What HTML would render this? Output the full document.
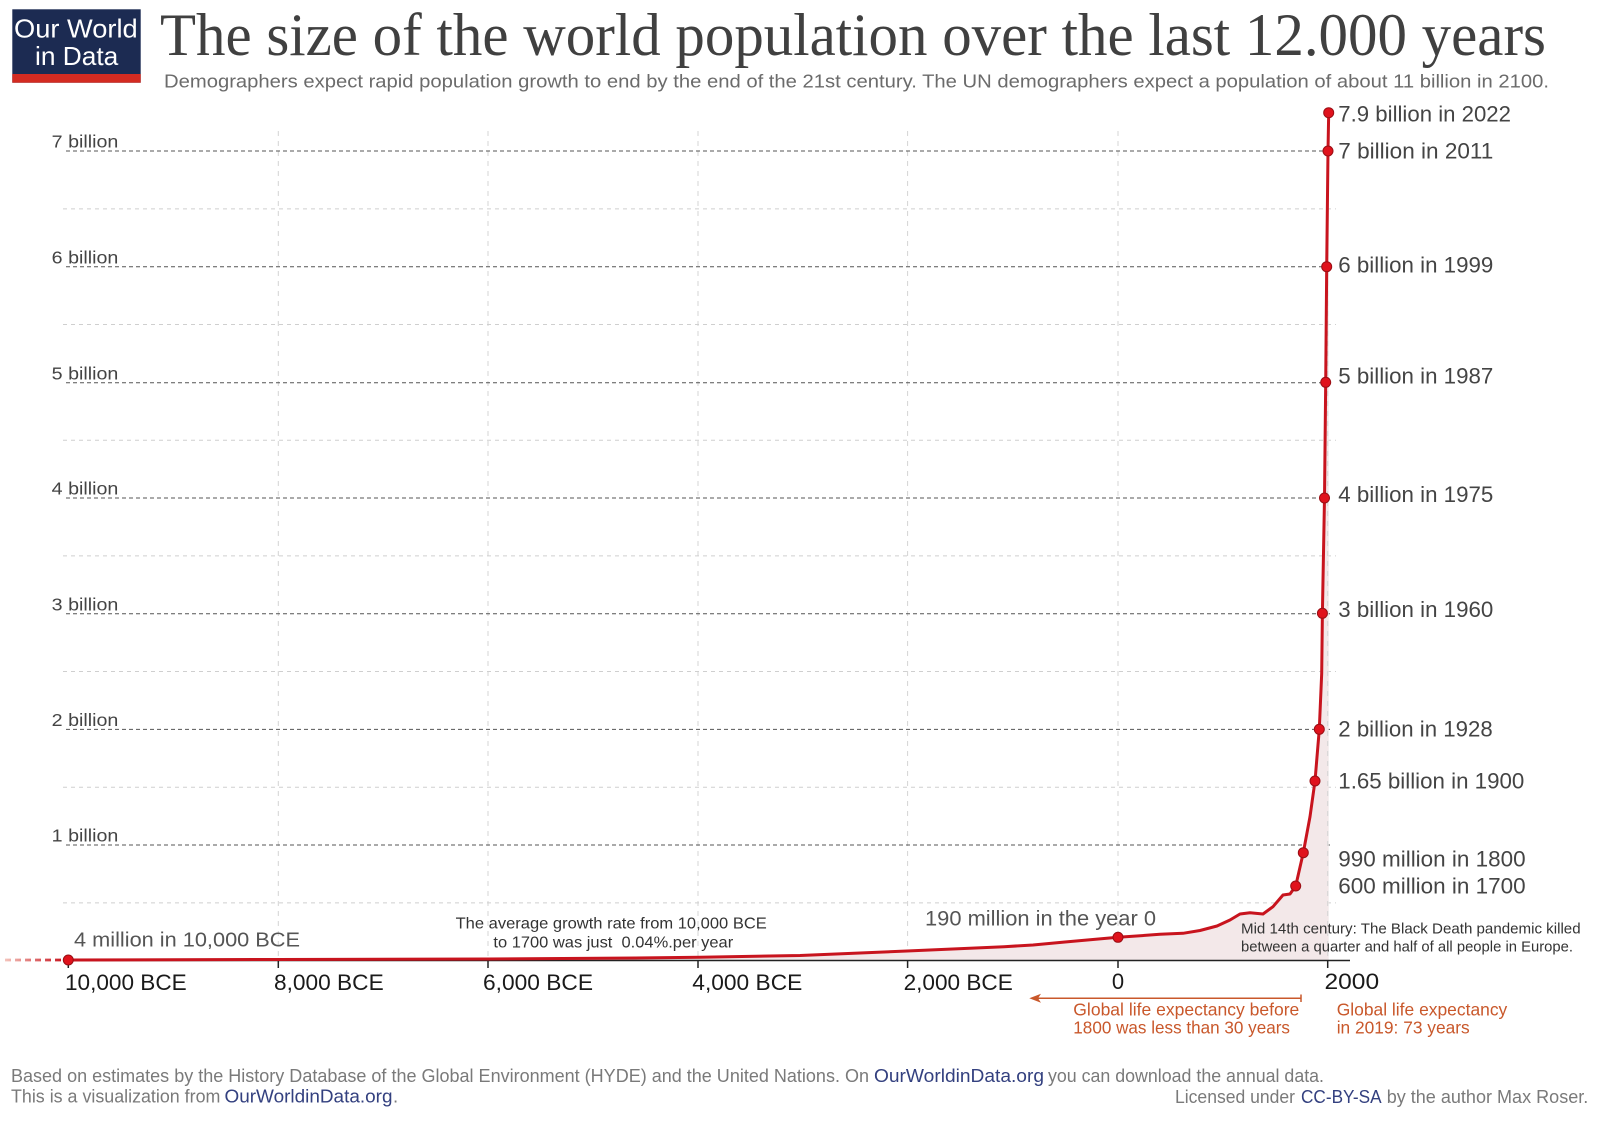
<!DOCTYPE html>
<html>
<head>
<meta charset="utf-8">
<style>
  html,body{margin:0;padding:0;background:#fff;}
  svg{display:block;}
  text{font-family:"Liberation Sans",sans-serif;}
</style>
</head>
<body>
<svg width="1600" height="1125" viewBox="0 0 1600 1125" xmlns="http://www.w3.org/2000/svg">
  <defs>
    <linearGradient id="lead" gradientUnits="userSpaceOnUse" x1="5" y1="960" x2="64" y2="960">
      <stop offset="0" stop-color="#f4c4bc"/>
      <stop offset="1" stop-color="#c8141e"/>
    </linearGradient>
  </defs>
  <rect width="1600" height="1125" fill="#fff"/>

  <!-- Logo -->
  <rect x="12.3" y="9.3" width="128.4" height="73.4" fill="#1c2b52"/>
  <rect x="12.3" y="74" width="128.4" height="8.7" fill="#d42b21"/>
  <text x="14" y="37.3" font-size="26" fill="#fff" textLength="123.7" lengthAdjust="spacingAndGlyphs">Our World</text>
  <text x="35" y="65" font-size="26" fill="#fff" textLength="83.3" lengthAdjust="spacingAndGlyphs">in Data</text>

  <!-- Title -->
  <text x="160" y="55" font-size="60" fill="#404040" textLength="1386" lengthAdjust="spacingAndGlyphs" style="font-family:'Liberation Serif',serif">The size of the world population over the last 12.000 years</text>
  <text x="164" y="87.3" font-size="18.5" fill="#6b6b6b" textLength="1385" lengthAdjust="spacingAndGlyphs">Demographers expect rapid population growth to end by the end of the 21st century. The UN demographers expect a population of about 11 billion in 2100.</text>

  <!-- Vertical gridlines -->
  <g stroke="#d4d4d4" stroke-width="1" stroke-dasharray="5 5">
    <line x1="278.3" y1="131" x2="278.3" y2="960"/>
    <line x1="488" y1="131" x2="488" y2="960"/>
    <line x1="698" y1="131" x2="698" y2="960"/>
    <line x1="907.6" y1="131" x2="907.6" y2="960"/>
    <line x1="1118" y1="131" x2="1118" y2="960"/>
  </g>

  <!-- Minor horizontal gridlines -->
  <g stroke="#cfcfcf" stroke-width="1" stroke-dasharray="4 4">
    <line x1="63" y1="208.9" x2="1336" y2="208.9"/>
    <line x1="63" y1="324.5" x2="1336" y2="324.5"/>
    <line x1="63" y1="440.2" x2="1336" y2="440.2"/>
    <line x1="63" y1="555.9" x2="1336" y2="555.9"/>
    <line x1="63" y1="671.5" x2="1336" y2="671.5"/>
    <line x1="63" y1="787.2" x2="1336" y2="787.2"/>
    <line x1="63" y1="902.9" x2="1336" y2="902.9"/>
  </g>

  <!-- Major horizontal gridlines -->
  <g stroke="#555" stroke-width="1" stroke-dasharray="4 3">
    <line x1="66" y1="151" x2="1330" y2="151"/>
    <line x1="66" y1="266.7" x2="1330" y2="266.7"/>
    <line x1="66" y1="382.7" x2="1330" y2="382.7"/>
    <line x1="66" y1="498" x2="1330" y2="498"/>
    <line x1="66" y1="613.7" x2="1330" y2="613.7"/>
    <line x1="66" y1="729.4" x2="1330" y2="729.4"/>
    <line x1="66" y1="845" x2="1330" y2="845"/>
  </g>

  <!-- Y labels -->
  <g font-size="17.5" fill="#444">
    <text x="51.7" y="147.7" textLength="66.7" lengthAdjust="spacingAndGlyphs">7 billion</text>
    <text x="51.7" y="263.4" textLength="66.7" lengthAdjust="spacingAndGlyphs">6 billion</text>
    <text x="51.7" y="379.4" textLength="66.7" lengthAdjust="spacingAndGlyphs">5 billion</text>
    <text x="51.7" y="494.7" textLength="66.7" lengthAdjust="spacingAndGlyphs">4 billion</text>
    <text x="51.7" y="610.4" textLength="66.7" lengthAdjust="spacingAndGlyphs">3 billion</text>
    <text x="51.7" y="726.1" textLength="66.7" lengthAdjust="spacingAndGlyphs">2 billion</text>
    <text x="51.7" y="841.7" textLength="66.7" lengthAdjust="spacingAndGlyphs">1 billion</text>
  </g>

  <!-- Area fill -->
  <polygon fill="#f3e8e9" points="68.3,960 279,959.5 488,959 600,958.3 700,957.3 800,955.5 907,951 1004,946.7 1033,945 1065,942 1118,937.3 1160,934.3 1183,933.3 1217,926 1230,920 1240,914 1250,912.7 1263,914 1273,906.7 1283,895 1290,894 1295.7,886 1303.3,852.7 1310,816.7 1315,781 1319.3,729.3 1321.7,673.3 1322.4,613.3 1324.5,498 1325.7,382.3 1326.7,266.7 1328,151 1328.7,112.7 1328.7,960.5 68.3,960.5"/>

  <!-- 2000 vertical gridline (over fill) -->
  <line x1="1327.7" y1="131" x2="1327.7" y2="960" stroke="#d4d4d4" stroke-width="1" stroke-dasharray="5 5"/>

  <!-- X axis -->
  <line x1="66" y1="960.5" x2="1350" y2="960.5" stroke="#222" stroke-width="1.5"/>
  <g stroke="#222" stroke-width="1.5">
    <line x1="68.3" y1="960" x2="68.3" y2="968"/>
    <line x1="278.3" y1="960" x2="278.3" y2="968"/>
    <line x1="488" y1="960" x2="488" y2="968"/>
    <line x1="698" y1="960" x2="698" y2="968"/>
    <line x1="907.6" y1="960" x2="907.6" y2="968"/>
    <line x1="1118" y1="960" x2="1118" y2="968"/>
    <line x1="1327.7" y1="960" x2="1327.7" y2="968"/>
  </g>

  <!-- X labels -->
  <g font-size="22" fill="#1a1a1a">
    <text x="65" y="990" textLength="121.7" lengthAdjust="spacingAndGlyphs">10,000 BCE</text>
    <text x="274" y="990" textLength="109.7" lengthAdjust="spacingAndGlyphs">8,000 BCE</text>
    <text x="483" y="990" textLength="110" lengthAdjust="spacingAndGlyphs">6,000 BCE</text>
    <text x="692.3" y="990" textLength="110" lengthAdjust="spacingAndGlyphs">4,000 BCE</text>
    <text x="903.6" y="990" textLength="109.2" lengthAdjust="spacingAndGlyphs">2,000 BCE</text>
    <text x="1118" y="989" text-anchor="middle">0</text>
    <text x="1324.5" y="989" textLength="54.6" lengthAdjust="spacingAndGlyphs">2000</text>
  </g>

  <!-- Lead-in dashed line -->
  <line x1="5" y1="960" x2="64" y2="960" stroke="url(#lead)" stroke-width="2.8" stroke-dasharray="6 4"/>

  <!-- Curve -->
  <polyline fill="none" stroke="#c8141e" stroke-width="3" stroke-linejoin="round" stroke-linecap="round" points="68.3,960 279,959.5 488,959 600,958.3 700,957.3 800,955.5 907,951 1004,946.7 1033,945 1065,942 1118,937.3 1160,934.3 1183,933.3 1200,930.5 1217,926 1230,920 1240,914 1250,912.7 1263,914 1273,906.7 1283,895 1290,894 1295.7,886 1303.3,852.7 1310,816.7 1315,781 1319.3,729.3 1321.7,673.3 1322.4,613.3 1324.5,498 1325.7,382.3 1326.7,266.7 1328,151 1328.7,112.7"/>

  <!-- Dots -->
  <g fill="#e0121c" stroke="#9a0e14" stroke-width="1">
    <circle cx="68.3" cy="960" r="5"/>
    <circle cx="1118" cy="937.3" r="5"/>
    <circle cx="1295.7" cy="886" r="5"/>
    <circle cx="1303.3" cy="852.7" r="5"/>
    <circle cx="1315" cy="781" r="5"/>
    <circle cx="1319.3" cy="729.3" r="5"/>
    <circle cx="1322.4" cy="613.3" r="5"/>
    <circle cx="1324.5" cy="498" r="5"/>
    <circle cx="1325.7" cy="382.3" r="5"/>
    <circle cx="1326.7" cy="266.7" r="5"/>
    <circle cx="1328" cy="151" r="5"/>
    <circle cx="1328.7" cy="112.7" r="5"/>
  </g>

  <!-- Right labels -->
  <g font-size="22" fill="#444">
    <text x="1338.3" y="121.7" textLength="172.7" lengthAdjust="spacingAndGlyphs">7.9 billion in 2022</text>
    <text x="1338.3" y="158.3" textLength="155" lengthAdjust="spacingAndGlyphs">7 billion in 2011</text>
    <text x="1338.3" y="272.7" textLength="155" lengthAdjust="spacingAndGlyphs">6 billion in 1999</text>
    <text x="1338.3" y="383.3" textLength="155" lengthAdjust="spacingAndGlyphs">5 billion in 1987</text>
    <text x="1338.3" y="502" textLength="155" lengthAdjust="spacingAndGlyphs">4 billion in 1975</text>
    <text x="1338.3" y="617" textLength="155" lengthAdjust="spacingAndGlyphs">3 billion in 1960</text>
    <text x="1338.3" y="736.7" textLength="154.4" lengthAdjust="spacingAndGlyphs">2 billion in 1928</text>
    <text x="1338.3" y="788.3" textLength="186" lengthAdjust="spacingAndGlyphs">1.65 billion in 1900</text>
    <text x="1338.3" y="866.7" textLength="187.3" lengthAdjust="spacingAndGlyphs">990 million in 1800</text>
    <text x="1338.3" y="893.3" textLength="187.3" lengthAdjust="spacingAndGlyphs">600 million in 1700</text>
  </g>

  <!-- Annotations -->
  <text x="74" y="946.7" font-size="20" fill="#555" textLength="226" lengthAdjust="spacingAndGlyphs">4 million in 10,000 BCE</text>
  <text x="925" y="925.7" font-size="21" fill="#555" textLength="231" lengthAdjust="spacingAndGlyphs">190 million in the year 0</text>
  <text x="455.6" y="928.3" font-size="16" fill="#333" textLength="311.2" lengthAdjust="spacingAndGlyphs">The average growth rate from 10,000 BCE</text>
  <text x="493.4" y="947.3" font-size="16" fill="#333" textLength="239.8" lengthAdjust="spacingAndGlyphs" xml:space="preserve">to 1700 was just  0.04%.per year</text>
  <text x="1241" y="933.3" font-size="15" fill="#333" textLength="339.6" lengthAdjust="spacingAndGlyphs">Mid 14th century: The Black Death pandemic killed</text>
  <text x="1241" y="951.3" font-size="15" fill="#333" textLength="332" lengthAdjust="spacingAndGlyphs">between a quarter and half of all people in Europe.</text>

  <!-- Life expectancy arrow -->
  <line x1="1033" y1="998.3" x2="1301" y2="998.3" stroke="#c9582b" stroke-width="1.5"/>
  <line x1="1301" y1="994.5" x2="1301" y2="1002" stroke="#c9582b" stroke-width="1.5"/>
  <polygon points="1029.3,998.3 1041,993.8 1038,998.3 1041,1002.8" fill="#c9582b"/>
  <g font-size="17.5" fill="#c9582b">
    <text x="1073.3" y="1015.7" textLength="226" lengthAdjust="spacingAndGlyphs">Global life expectancy before</text>
    <text x="1073.3" y="1033.3" textLength="216.7" lengthAdjust="spacingAndGlyphs">1800 was less than 30 years</text>
    <text x="1336.7" y="1015.7" textLength="170.6" lengthAdjust="spacingAndGlyphs">Global life expectancy</text>
    <text x="1336.7" y="1033.3" textLength="133" lengthAdjust="spacingAndGlyphs">in 2019: 73 years</text>
  </g>

  <!-- Footer -->
  <g font-size="18.5">
    <text x="11" y="1082" fill="#7a7a7a" textLength="858" lengthAdjust="spacingAndGlyphs">Based on estimates by the History Database of the Global Environment (HYDE) and the United Nations. On</text>
    <text x="874" y="1082" fill="#33407f" textLength="170" lengthAdjust="spacingAndGlyphs">OurWorldinData.org</text>
    <text x="1048" y="1082" fill="#7a7a7a" textLength="276" lengthAdjust="spacingAndGlyphs">you can download the annual data.</text>
    <text x="11" y="1102.7" fill="#7a7a7a" textLength="209.4" lengthAdjust="spacingAndGlyphs">This is a visualization from</text>
    <text x="224.5" y="1102.7" fill="#33407f" textLength="168" lengthAdjust="spacingAndGlyphs">OurWorldinData.org</text>
    <text x="393" y="1102.7" fill="#7a7a7a">.</text>
    <text x="1175" y="1103" fill="#7a7a7a" textLength="120" lengthAdjust="spacingAndGlyphs">Licensed under</text>
    <text x="1301" y="1103" fill="#33407f" textLength="80.6" lengthAdjust="spacingAndGlyphs">CC-BY-SA</text>
    <text x="1386.7" y="1103" fill="#7a7a7a" textLength="201.6" lengthAdjust="spacingAndGlyphs">by the author Max Roser.</text>
  </g>
</svg>
</body>
</html>
